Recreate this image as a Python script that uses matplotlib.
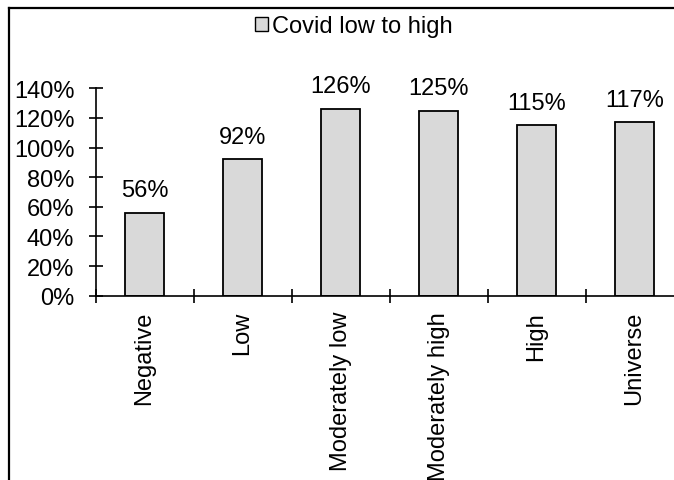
import matplotlib.pyplot as plt
import numpy as np
from matplotlib.lines import Line2D
from matplotlib.patches import Patch

plt.rcParams['font.family'] = ['Liberation Sans', 'DejaVu Sans']

categories = ["Negative", "Low", "Moderately low", "Moderately high", "High", "Universe"]
covid = [56, 92, 126, 125, 115, 117]
yticks = [0, 20, 40, 60, 80, 100, 120, 140]

FS = 17
fig = plt.figure(figsize=(6.74, 4.81), dpi=100)
W, H = 674, 481

# axes box in pixels: y axis at x=95.5, 0% at y=296.7, 140% at y=89.3
left, bottom, top = 95.5, 296.7, 89.3
cat_w = 98.0
ax = fig.add_axes([left / W, (H - bottom) / H, 6 * cat_w / W, (bottom - top) / H])

x = np.arange(len(categories))
bars = ax.bar(x, covid, width=0.4, color="#d9d9d9", edgecolor="black", linewidth=1.3)

for b, v in zip(bars, covid):
    ax.annotate(f"{v}%", (b.get_x() + b.get_width() / 2, v),
                xytext=(0, 8.5), textcoords="offset points",
                ha="center", va="bottom", fontsize=FS)

ax.set_xlim(-0.5, 5.5)
ax.set_ylim(0, 140)
ax.set_yticks(yticks)
ax.set_yticklabels([f"{t}%" for t in yticks], fontsize=FS)
ax.set_xticks(x)
ax.set_xticklabels(categories, rotation=90, fontsize=FS, va="top", ha="center")
ax.set_xticks(np.arange(-0.5, 6, 1), minor=True)

ax.tick_params(axis="x", which="major", length=0, pad=11)
ax.tick_params(axis="x", which="minor", direction="inout", length=10.5, width=1.2)
ax.tick_params(axis="y", direction="inout", length=10.5, width=1.2, pad=10)

for s in ["top", "right"]:
    ax.spines[s].set_visible(False)
for s in ["left", "bottom"]:
    ax.spines[s].set_linewidth(1.2)
ax.patch.set_alpha(0)

# legend centred at the top
handle = Patch(facecolor="#d9d9d9", edgecolor="black", linewidth=1.0)
fig.legend([handle], ["Covid low to high"], loc="center",
           bbox_to_anchor=(354 / W, 1 - 27 / H), frameon=False, fontsize=FS,
           handlelength=0.55, handleheight=0.55, handletextpad=0.15,
           borderpad=0, borderaxespad=0)

# outer border: top and left edges
bx, by = 8.5 / W, 1 - 8.5 / H
fig.add_artist(Line2D([bx, 1], [by, by], transform=fig.transFigure, color="black", linewidth=1.6))
fig.add_artist(Line2D([bx, bx], [0, by], transform=fig.transFigure, color="black", linewidth=1.6))

fig.savefig("out.png", dpi=100, facecolor="white")
